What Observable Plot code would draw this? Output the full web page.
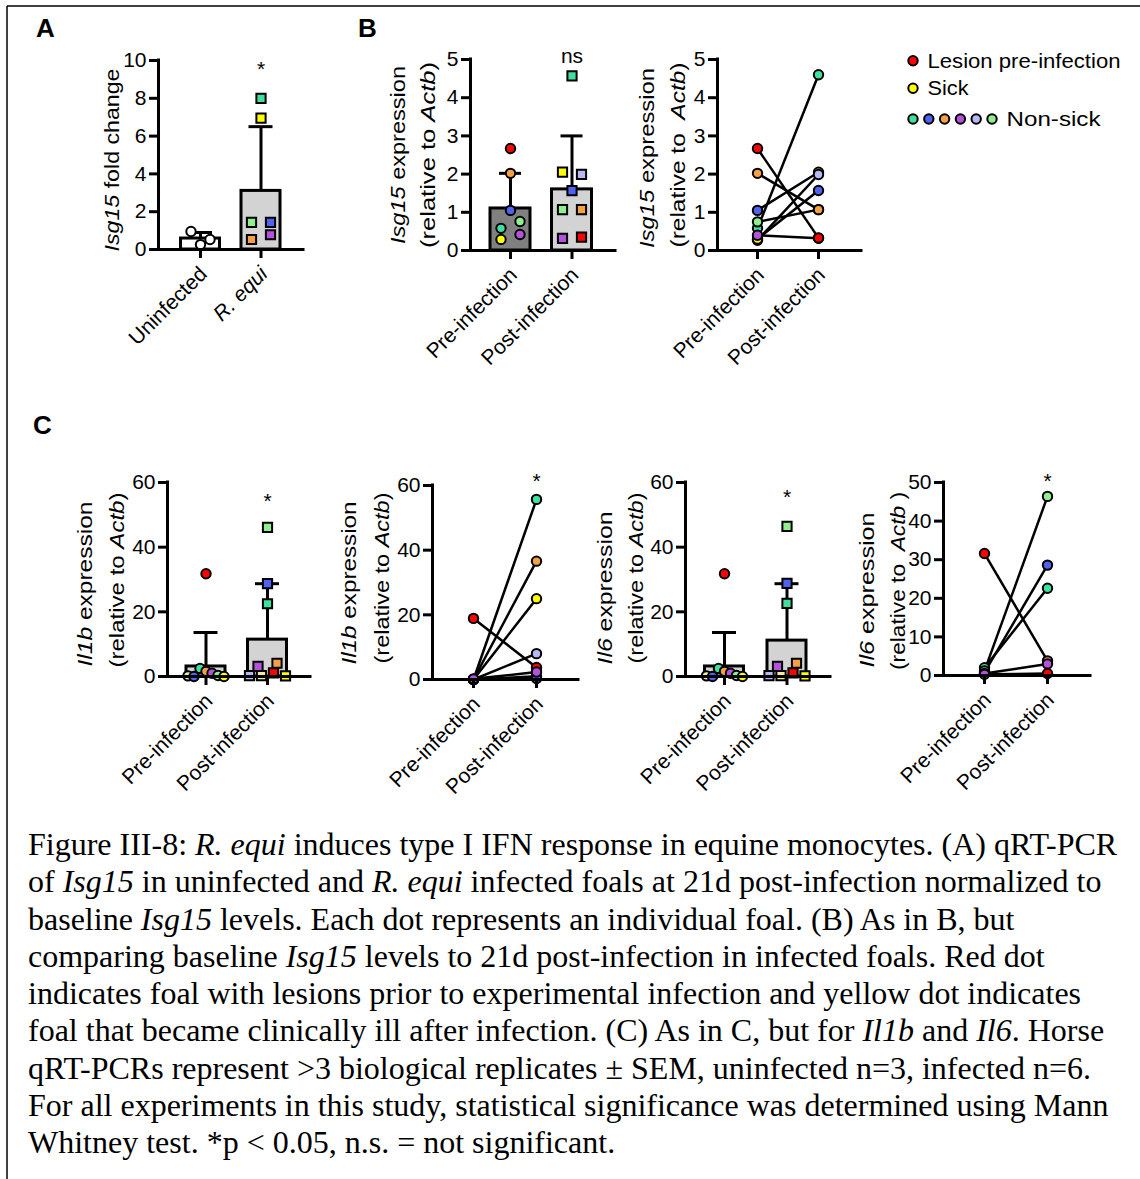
<!DOCTYPE html>
<html>
<head>
<meta charset="utf-8">
<script src="https://cdn.jsdelivr.net/npm/d3@7"></script>
<script src="https://cdn.jsdelivr.net/npm/@observablehq/plot@0.6"></script>
<style>
html, body { margin: 0; padding: 0; background: #ffffff; }
#page { position: relative; width: 1140px; height: 1179px; overflow: hidden; background: #ffffff; }
#overlay { position: absolute; left: 0; top: 0; pointer-events: none; }
</style>
</head>
<body>
<div id="page"><svg id="overlay" width="1140" height="1179"></svg></div>
<script>
// ---------------- DATA ----------------
const groupsA = ["Uninfected", "R. equi"];
const timepoints = ["Pre-infection", "Post-infection"];

// Panel A: Isg15 fold change
const aUninfFoals = ["uninf", "uninf", "uninf"];
const aUninfValues = [0.95, 0.53, 0.26];
const aInfFoals = ["ns1", "sick", "ns6", "ns2", "ns3", "ns4"];
const aInfValues = [8.0, 6.95, 1.43, 1.43, 0.53, 0.78];
const aMeans = [0.58, 3.1];
const aErrTop = [0.9, 6.5];
const aSig = ["", "*"];
const aTicks = [0, 2, 4, 6, 8, 10];

// Panel B (bars): Isg15 relative to Actb
const bPreFoals = ["lesion", "ns3", "ns2", "ns1", "ns6", "sick", "ns4"];
const bPreValues = [2.67, 2.02, 1.05, 0.58, 0.76, 0.29, 0.42];
const bPostFoals = ["ns1", "sick", "ns5", "ns2", "ns6", "ns3", "ns4", "lesion"];
const bPostValues = [4.57, 2.05, 1.99, 1.57, 1.07, 1.07, 0.32, 0.35];
const bMeans = [1.1, 1.6];
const bErrTop = [2.02, 3.0];
const bSig = ["", "ns"];
const isgTicks = [0, 1, 2, 3, 4, 5];

// Panel B (paired)
const bPairPreFoals = ["ns2", "ns5", "sick", "ns1", "ns6", "ns4", "ns3", "lesion"];
const bPairPreValues = [1.05, 0.27, 0.30, 0.58, 0.75, 0.40, 2.02, 2.67];
const bPairPostFoals = ["sick", "ns5", "ns2", "ns1", "ns6", "ns4", "ns3", "lesion"];
const bPairPostValues = [2.05, 1.99, 1.57, 4.60, 1.07, 0.32, 1.07, 0.33];
const bPairSig = ["", ""];

// Panel C1: Il1b bars
const il1bPreFoals = ["lesion", "ns7", "ns2", "ns1", "ns3", "ns4", "ns6", "sick"];
const il1bPreValues = [31.8, 0.2, 0.0, 2.5, 1.6, 1.0, 0.3, 0.0];
const il1bPostFoals = ["ns6", "ns2", "ns1", "ns4", "ns3", "ns5", "ns7", "lesion", "sick"];
const il1bPostValues = [46.1, 28.7, 22.5, 3.1, 4.1, 0.3, 0.3, 1.1, 0.2];
const il1bMeans = [3.1, 11.4];
const il1bErrTop = [13.6, 28.7];
const il1bSig = ["", "*"];
const c60Ticks = [0, 20, 40, 60];

// Panel C2: Il1b paired
const il1bPairPreFoals = ["ns1", "ns3", "sick", "ns5", "ns6", "ns2", "lesion", "ns4"];
const il1bPairPreValues = [0, 0, 0, 0, 0, 0, 18.9, 0.2];
const il1bPairPostFoals = ["ns1", "ns3", "sick", "ns5", "ns6", "ns2", "lesion", "ns4"];
const il1bPairPostValues = [55.7, 36.6, 25.0, 8.0, 1.0, 0.3, 3.7, 2.3];
const il1bPairSig = ["", "*"];

// Panel C3: Il6 bars
const il6PreFoals = ["lesion", "ns7", "ns2", "ns1", "ns3", "ns4", "ns6", "sick"];
const il6PreValues = [31.8, 0.2, 0.0, 2.5, 1.6, 1.0, 0.3, 0.0];
const il6PostFoals = ["ns6", "ns2", "ns1", "ns4", "ns3", "ns5", "ns7", "lesion", "sick"];
const il6PostValues = [46.4, 28.8, 22.6, 3.1, 4.1, 0.3, 0.3, 1.1, 0.2];
const il6Means = [3.1, 11.1];
const il6ErrTop = [13.6, 28.7];
const il6Sig = ["", "*"];

// Panel C4: Il6 paired
const il6PairPreFoals = ["lesion", "ns1", "ns2", "ns6", "sick", "ns4"];
const il6PairPreValues = [31.6, 2.0, 0.8, 1.2, 0.5, 0.3];
const il6PairPostFoals = ["ns3", "ns1", "ns2", "ns6", "ns4", "lesion"];
const il6PairPostValues = [3.8, 22.6, 28.6, 46.4, 3.0, 0.5];
const il6PairSig = ["", "*"];
const c50Ticks = [0, 10, 20, 30, 40, 50];

// Legend
const legendLabels = ["Lesion pre-infection", "Sick", "Non-sick"];
const legendFoals = [["lesion"], ["sick"], ["ns1", "ns2", "ns3", "ns4", "ns5", "ns6"]];

// ---------------- STYLE ----------------
const SANS = "Arial, 'Liberation Sans', Helvetica, sans-serif";
const SERIF = "'Times New Roman', 'Liberation Serif', Times, serif";
const foalColor = {
  uninf: "#FFFFFF", lesion: "#FF0000", sick: "#FFFF00",
  ns1: "#40E0A0", ns2: "#5262F0", ns3: "#F5A045", ns4: "#B452DE",
  ns5: "#B8B8F4", ns6: "#90EE90", ns7: "#F2EC9E"
};
const barFill = {white: "#FFFFFF", light: "#D3D3D3", dark: "#808080"};
const TICK = 9; // tick length in px

const page = document.getElementById("page");
const overlayEl = document.getElementById("overlay");

// beeswarm-like row layout (GraphPad style): returns pixel offsets
function rowOffsets(values, ppu, threshold = 9, spacing = 19, spread = 36) {
  const idx = d3.range(values.length).sort((a, b) => values[b] - values[a] || a - b);
  const rows = [];
  for (const i of idx) {
    const row = rows[rows.length - 1];
    if (row && (values[row[0]] - values[i]) * ppu <= threshold) row.push(i);
    else rows.push([i]);
  }
  const off = new Array(values.length).fill(0);
  for (const row of rows) {
    const r = row.slice().sort((a, b) => a - b);
    const n = r.length;
    const sp = n > 1 ? Math.min(spacing, spread / (n - 1)) : 0;
    r.forEach((i, k) => { off[i] = (k - (n - 1) / 2) * sp; });
  }
  return off;
}

function render(L, spec, marks) {
  const step = L.c1 - L.c0;
  const ppu = (L.y0 - L.yTop) / spec.yMax;
  const toX = px => (px - L.c0) / step;
  const xMin = toX(L.axisX), xMax = toX(L.endX);
  const box = {left: L.axisX - 75, top: L.yTop - 40, right: L.endX + 20, bottom: L.y0 + 140};
  const sigRows = spec.sig.map((label, i) => ({i, label})).filter(d => d.label);
  const catIdx = spec.cats.map((c, i) => i);
  const axes = [
    // tick marks
    Plot.ruleY(spec.yTicks, {y: d => d, x1: () => xMin - TICK / step, x2: () => xMin, stroke: "black", strokeWidth: 3}),
    Plot.ruleX(catIdx, {x: d => d, y1: () => 0, y2: () => -TICK / ppu, stroke: "black", strokeWidth: 3}),
    // axis lines
    Plot.ruleY([0], {stroke: "black", strokeWidth: 3, strokeLinecap: "square"}),
    Plot.ruleX([xMin], {y1: 0, y2: spec.yMax, stroke: "black", strokeWidth: 3, strokeLinecap: "square"}),
    // tick labels
    Plot.axisY(spec.yTicks, {anchor: "left", tickSize: 0, tickPadding: TICK + 3, fontSize: 21, label: null, tickFormat: d => String(d)}),
    ...spec.cats.map((c, i) => Plot.axisX([i], {
      anchor: "bottom", tickSize: 0, tickPadding: TICK + 12, dx: 3, fontSize: 21,
      tickRotate: -45, label: null, tickFormat: () => c,
      fontStyle: (spec.italicCats && spec.italicCats[i]) ? "italic" : "normal"
    })),
    Plot.text(sigRows, {x: "i", y: () => spec.yMax, text: "label", dy: spec.sigDy, fontSize: 21})
  ];
  const svg = Plot.plot({
    width: box.right - box.left,
    height: box.bottom - box.top,
    marginLeft: L.axisX - box.left,
    marginRight: box.right - L.endX,
    marginTop: L.yTop - box.top,
    marginBottom: box.bottom - L.y0,
    x: {type: "linear", domain: [xMin, xMax], axis: null},
    y: {type: "linear", domain: [0, spec.yMax], axis: null, clamp: false},
    style: {fontFamily: SANS, fontSize: "21px", background: "transparent", overflow: "visible", color: "#000"},
    marks: [...marks, ...axes]
  });
  svg.style.position = "absolute";
  svg.style.left = box.left + "px";
  svg.style.top = box.top + "px";
  svg.style.maxWidth = "none";
  page.insertBefore(svg, overlayEl);
}

function barPanel(L, spec) {
  const step = L.c1 - L.c0;
  const ppu = (L.y0 - L.yTop) / spec.yMax;
  const bars = spec.cats.map((c, i) => ({i, mean: spec.means[i], err: spec.errTop[i], fill: spec.barFills[i]}));
  const pts = [];
  spec.groups.forEach((g, i) => {
    const off = rowOffsets(g.values, ppu);
    g.values.forEach((v, k) => pts.push({x: i + off[k] / step, v, foal: g.foals[k], symbol: g.symbol}));
  });
  const hw = L.barHalf / step, cw = L.capHalf / step;
  const marks = [
    Plot.rect(bars, {x1: d => d.i - hw, x2: d => d.i + hw, y1: 0, y2: "mean", fill: d => barFill[d.fill], stroke: "black", strokeWidth: 3}),
    Plot.ruleX(bars, {x: "i", y1: "mean", y2: "err", stroke: "black", strokeWidth: 3}),
    Plot.ruleY(bars, {y: "err", x1: d => d.i - cw, x2: d => d.i + cw, stroke: "black", strokeWidth: 3}),
    Plot.dot(pts.filter(p => p.symbol === "circle"), {x: "x", y: "v", r: 4.7, symbol: "circle", fill: d => foalColor[d.foal], stroke: "black", strokeWidth: 2}),
    Plot.dot(pts.filter(p => p.symbol === "square"), {x: "x", y: "v", r: 5.2, symbol: "square", fill: d => foalColor[d.foal], stroke: "black", strokeWidth: 2})
  ];
  render(L, spec, marks);
}

function pairedPanel(L, spec) {
  const pairs = spec.pre.map((v, k) => ({pre: v, post: spec.post[k], preFoal: spec.preFoals[k], postFoal: spec.postFoals[k]}));
  const marks = [
    Plot.link(pairs, {x1: () => 0, y1: "pre", x2: () => 1, y2: "post", stroke: "black", strokeWidth: 2.5}),
    Plot.dot(pairs, {x: () => 0, y: "pre", r: 4.7, fill: d => foalColor[d.preFoal], stroke: "black", strokeWidth: 2}),
    Plot.dot(pairs, {x: () => 1, y: "post", r: 4.7, fill: d => foalColor[d.postFoal], stroke: "black", strokeWidth: 2})
  ];
  render(L, spec, marks);
}

// ---------------- PANELS ----------------
barPanel({axisX: 158, endX: 303, c0: 200, c1: 260.5, y0: 249, yTop: 60, barHalf: 19.5, capHalf: 12}, {
  cats: groupsA, italicCats: [false, true], yMax: 10, yTicks: aTicks,
  means: aMeans, errTop: aErrTop, barFills: ["white", "light"], sig: aSig, sigDy: 9,
  groups: [{values: aUninfValues, foals: aUninfFoals, symbol: "circle"}, {values: aInfValues, foals: aInfFoals, symbol: "square"}]
});

barPanel({axisX: 470, endX: 615, c0: 510, c1: 571.5, y0: 250, yTop: 59, barHalf: 20, capHalf: 11}, {
  cats: timepoints, yMax: 5, yTicks: isgTicks,
  means: bMeans, errTop: bErrTop, barFills: ["dark", "light"], sig: bSig, sigDy: -3,
  groups: [{values: bPreValues, foals: bPreFoals, symbol: "circle"}, {values: bPostValues, foals: bPostFoals, symbol: "square"}]
});

pairedPanel({axisX: 717, endX: 861, c0: 757, c1: 818, y0: 250, yTop: 59}, {
  cats: timepoints, yMax: 5, yTicks: isgTicks, sig: bPairSig, sigDy: 0,
  pre: bPairPreValues, post: bPairPostValues, preFoals: bPairPreFoals, postFoals: bPairPostFoals
});

barPanel({axisX: 167, endX: 310, c0: 205.5, c1: 267, y0: 676, yTop: 482, barHalf: 19.5, capHalf: 12}, {
  cats: timepoints, yMax: 60, yTicks: c60Ticks,
  means: il1bMeans, errTop: il1bErrTop, barFills: ["light", "light"], sig: il1bSig, sigDy: 19,
  groups: [{values: il1bPreValues, foals: il1bPreFoals, symbol: "circle"}, {values: il1bPostValues, foals: il1bPostFoals, symbol: "square"}]
});

pairedPanel({axisX: 432, endX: 578, c0: 473, c1: 536, y0: 679, yTop: 485}, {
  cats: timepoints, yMax: 60, yTicks: c60Ticks, sig: il1bPairSig, sigDy: -4,
  pre: il1bPairPreValues, post: il1bPairPostValues, preFoals: il1bPairPreFoals, postFoals: il1bPairPostFoals
});

barPanel({axisX: 685, endX: 830, c0: 724, c1: 786.5, y0: 676, yTop: 482, barHalf: 19.5, capHalf: 12}, {
  cats: timepoints, yMax: 60, yTicks: c60Ticks,
  means: il6Means, errTop: il6ErrTop, barFills: ["light", "light"], sig: il6Sig, sigDy: 15,
  groups: [{values: il6PreValues, foals: il6PreFoals, symbol: "circle"}, {values: il6PostValues, foals: il6PostFoals, symbol: "square"}]
});

pairedPanel({axisX: 943, endX: 1090, c0: 984, c1: 1047, y0: 675, yTop: 482}, {
  cats: timepoints, yMax: 50, yTicks: c50Ticks, sig: il6PairSig, sigDy: -1,
  pre: il6PairPreValues, post: il6PairPostValues, preFoals: il6PairPreFoals, postFoals: il6PairPostFoals
});

// ---------------- OVERLAY TEXT ----------------
const ov = d3.select("#overlay");
ov.append("line").attr("x1", 7).attr("y1", 6).attr("x2", 7).attr("y2", 1179).attr("stroke", "#000").attr("stroke-width", 1.5);
ov.append("line").attr("x1", 7).attr("y1", 6).attr("x2", 1140).attr("y2", 6).attr("stroke", "#000").attr("stroke-width", 1.5);

[["A", 36, 37], ["B", 358, 37], ["C", 33, 434]].forEach(([t, x, y]) =>
  ov.append("text").attr("x", x).attr("y", y).attr("font-family", SANS).attr("font-weight", "bold").attr("font-size", 26).text(t));

function ylabel(cx, cy, len, parts) {
  const t = ov.append("text")
    .attr("transform", `translate(${cx},${cy}) rotate(-90)`)
    .attr("text-anchor", "middle").attr("dy", "0.32em")
    .attr("font-family", SANS).attr("font-size", 20)
    .attr("textLength", len).attr("lengthAdjust", "spacingAndGlyphs")
    .style("white-space", "pre");
  parts.forEach(([s, it]) => t.append("tspan").attr("font-style", it ? "italic" : "normal").text(s));
}
const exprIsg = [["Isg15", 1], [" expression", 0]];
const rel = [["(relative to ", 0], ["Actb", 1], [")", 0]];
const rel2 = [["(relative to  ", 0], ["Actb", 1], [")", 0]];
const rel3 = [["(relative to  ", 0], ["Actb", 1], [" )", 0]];
ylabel(113, 160, 183, [["Isg15", 1], [" fold change", 0]]);
ylabel(399, 155, 178, exprIsg);
ylabel(429, 155, 186, rel);
ylabel(648, 158, 180, exprIsg);
ylabel(679, 155, 185, rel2);
ylabel(86, 584, 165, [["Il1b", 1], [" expression", 0]]);
ylabel(118, 580, 175, rel);
ylabel(350, 583, 163, [["Il1b", 1], [" expression", 0]]);
ylabel(383, 578, 171, rel);
ylabel(606, 588, 153, [["Il6", 1], [" expression", 0]]);
ylabel(637, 578, 171, rel);
ylabel(868, 590, 155, [["Il6", 1], [" expression", 0]]);
ylabel(899, 581, 178, rel3);

// Legend
const legRowY = [60.7, 88.3, 119];
const legTextLen = [193, 41, 94];
legendLabels.forEach((label, r) => {
  const foals = legendFoals[r];
  foals.forEach((f, k) => ov.append("circle").attr("cx", 913 + k * 15.8).attr("cy", legRowY[r]).attr("r", 4.7)
    .attr("fill", foalColor[f]).attr("stroke", "#000").attr("stroke-width", 2));
  ov.append("text").attr("x", 913 + (foals.length - 1) * 15.8 + 14.5).attr("y", legRowY[r] + 6.8)
    .attr("font-family", SANS).attr("font-size", 20)
    .attr("textLength", legTextLen[r]).attr("lengthAdjust", "spacingAndGlyphs").text(label);
});

// Caption
const captionLines = [
  [["Figure III-8: "], ["R. equi", 1], [" induces type I IFN response in equine monocytes. (A) qRT-PCR"]],
  [["of "], ["Isg15", 1], [" in uninfected and "], ["R. equi", 1], [" infected foals at 21d post-infection normalized to"]],
  [["baseline "], ["Isg15", 1], [" levels. Each dot represents an individual foal. (B) As in B, but"]],
  [["comparing baseline "], ["Isg15", 1], [" levels to 21d post-infection in infected foals. Red dot"]],
  [["indicates foal with lesions prior to experimental infection and yellow dot indicates"]],
  [["foal that became clinically ill after infection. (C) As in C, but for "], ["Il1b", 1], [" and "], ["Il6", 1], [". Horse"]],
  [["qRT-PCRs represent >3 biological replicates \u00b1 SEM, uninfected n=3, infected n=6."]],
  [["For all experiments in this study, statistical significance was determined using Mann"]],
  [["Whitney test. *p < 0.05, n.s. = not significant."]]
];
captionLines.forEach((parts, i) => {
  const t = ov.append("text").attr("x", 28).attr("y", 855 + i * 37.25)
    .attr("font-family", SERIF).attr("font-size", 32).style("white-space", "pre");
  parts.forEach(([s, it]) => t.append("tspan").attr("font-style", it ? "italic" : "normal").text(s));
});
</script>
</body>
</html>
